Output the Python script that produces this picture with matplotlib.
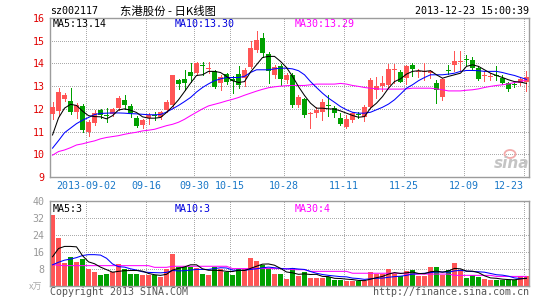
import numpy as np
import matplotlib
matplotlib.use("Agg")
import matplotlib.pyplot as plt
from matplotlib.patches import Ellipse

# ---- values (daily K line, 80 trading days) ----
date_labels = ["2013-09-02", "09-16", "09-30", "10-15", "10-28", "11-11", "11-25", "12-09", "12-23"]
date_idx = [6, 16, 24, 30, 39, 49, 59, 69, 79]

opens = [11.76, 11.90, 12.45, 12.36, 11.88, 12.12, 11.00, 11.36, 11.95, 11.75,
         11.78, 12.02, 12.39, 12.12, 11.60, 11.28, 11.58, 11.75, 11.65, 11.95,
         12.15, 13.27, 13.31, 13.64, 13.56, 13.90, 13.76, 13.67, 13.15, 13.52,
         13.30, 13.53, 13.38, 13.85, 14.60, 15.13, 14.40, 13.50, 13.90, 13.27,
         13.50, 12.15, 12.43, 11.76, 11.80, 11.88, 12.16, 12.03, 11.59, 11.22,
         11.51, 11.76, 11.66, 12.06, 12.84, 12.99, 13.06, 13.70, 13.62, 13.35,
         13.93, 13.62, 13.64, 13.60, 13.16, 12.51, 13.72, 13.94, 14.07, 14.20,
         14.15, 13.80, 13.45, 13.42, 13.47, 13.38, 13.12, 13.07, 13.16, 13.20]
highs = [12.31, 12.93, 12.72, 12.93, 12.25, 12.20, 11.52, 11.95, 12.00, 12.02,
         12.05, 12.55, 12.60, 12.20, 11.70, 11.55, 11.80, 11.85, 11.90, 12.40,
         13.50, 13.32, 13.70, 14.00, 14.08, 14.08, 14.07, 13.70, 13.50, 13.60,
         13.45, 13.90, 13.80, 14.98, 15.43, 15.35, 14.50, 13.93, 13.97, 13.60,
         13.60, 12.60, 12.47, 11.85, 12.06, 12.44, 12.59, 12.13, 11.80, 11.74,
         11.88, 11.88, 12.15, 13.35, 13.40, 13.43, 13.99, 13.99, 13.72, 13.94,
         14.00, 13.75, 14.00, 13.72, 13.25, 13.35, 13.95, 14.53, 14.53, 14.35,
         14.30, 13.87, 13.65, 13.57, 13.90, 13.50, 13.20, 13.20, 13.35, 13.68]
lows = [11.55, 11.75, 12.35, 11.78, 11.60, 10.98, 10.80, 11.30, 11.60, 11.43,
        11.70, 11.95, 12.00, 11.62, 11.20, 11.15, 11.35, 11.50, 11.55, 11.87,
        12.05, 12.88, 12.85, 13.20, 13.50, 13.49, 13.60, 12.90, 12.85, 13.10,
        12.72, 12.90, 13.00, 13.80, 14.50, 14.30, 13.13, 13.35, 13.05, 13.13,
        12.10, 12.10, 11.62, 11.15, 11.66, 11.50, 11.70, 11.62, 11.27, 11.15,
        11.44, 11.58, 11.47, 12.03, 12.47, 12.80, 12.96, 13.13, 13.17, 13.09,
        13.45, 13.40, 13.25, 13.35, 12.25, 12.40, 13.55, 13.65, 13.65, 13.94,
        13.72, 13.25, 13.24, 13.25, 13.28, 13.10, 12.80, 12.95, 13.03, 12.80]
closes = [12.06, 12.75, 12.62, 11.88, 12.17, 11.07, 11.43, 11.83, 11.73, 11.70,
          12.00, 12.46, 12.17, 11.80, 11.26, 11.50, 11.73, 11.68, 11.87, 12.31,
          13.50, 13.08, 13.12, 13.45, 14.03, 13.87, 13.80, 12.95, 13.39, 13.20,
          13.22, 13.03, 13.72, 14.68, 15.03, 14.44, 13.65, 13.86, 13.30, 13.49,
          12.18, 12.54, 11.74, 11.80, 11.93, 12.32, 12.13, 11.80, 11.32, 11.56,
          11.81, 11.72, 12.06, 13.28, 12.99, 13.16, 13.75, 13.74, 13.20, 13.87,
          13.75, 13.66, 13.68, 13.64, 12.84, 13.31, 13.68, 14.12, 14.10, 14.17,
          13.80, 13.31, 13.48, 13.45, 13.44, 13.13, 12.87, 13.05, 13.31, 13.40]

ma5 = [10.85, 11.60, 12.03, 12.20, 12.15, 11.90, 11.70, 11.66, 11.65, 11.56,
       11.70, 11.95, 12.00, 11.94, 11.84, 11.65, 11.59, 11.59, 11.62, 11.84,
       12.10, 12.40, 12.76, 13.13, 13.47, 13.50, 13.65, 13.65, 13.60, 13.43,
       13.24, 13.16, 13.20, 13.62, 13.94, 14.26, 14.31, 14.31, 14.09, 13.82,
       13.43, 12.98, 12.59, 12.25, 12.03, 12.03, 12.00, 11.99, 11.91, 11.81,
       11.71, 11.63, 11.66, 12.03, 12.25, 12.54, 12.91, 13.20, 13.32, 13.53,
       13.65, 13.68, 13.65, 13.68, 13.50, 13.35, 13.43, 13.50, 13.57, 13.87,
       13.94, 13.87, 13.72, 13.57, 13.47, 13.38, 13.28, 13.20, 13.18, 13.12]
ma10 = [10.27, 10.60, 10.95, 11.15, 11.35, 11.50, 11.62, 11.75, 11.80, 11.81,
        11.82, 11.82, 11.81, 11.79, 11.78, 11.76, 11.74, 11.74, 11.75, 11.86,
        12.00, 12.15, 12.32, 12.50, 12.74, 12.94, 13.10, 13.24, 13.32, 13.38,
        13.38, 13.38, 13.43, 13.60, 13.72, 13.72, 13.72, 13.76, 13.79, 13.79,
        13.76, 13.68, 13.50, 13.20, 12.94, 12.69, 12.47, 12.29, 12.10, 11.96,
        11.85, 11.81, 11.81, 11.85, 11.96, 12.07, 12.21, 12.40, 12.65, 12.91,
        13.06, 13.24, 13.38, 13.50, 13.50, 13.50, 13.53, 13.57, 13.65, 13.69,
        13.69, 13.68, 13.65, 13.65, 13.65, 13.60, 13.53, 13.47, 13.38, 13.30]
ma30 = [9.96, 10.12, 10.19, 10.29, 10.41, 10.46, 10.53, 10.59, 10.68, 10.74,
        10.78, 10.82, 10.88, 10.93, 10.97, 11.03, 11.06, 11.10, 11.18, 11.26,
        11.32, 11.41, 11.54, 11.70, 11.85, 12.00, 12.13, 12.20, 12.27, 12.35,
        12.42, 12.50, 12.60, 12.69, 12.78, 12.86, 12.93, 12.97, 13.00, 13.02,
        13.03, 13.03, 13.03, 13.06, 13.09, 13.09, 13.09, 13.09, 13.12, 13.09,
        13.03, 12.99, 12.94, 12.91, 12.88, 12.87, 12.87, 12.87, 12.87, 12.88,
        12.91, 12.91, 12.91, 12.91, 12.88, 12.84, 12.79, 12.79, 12.79, 12.82,
        12.84, 12.88, 12.94, 12.99, 13.03, 13.06, 13.10, 13.16, 13.20, 13.28]

volume = [33.6, 22.7, 10.7, 13.4, 11.2, 12.6, 8.0, 6.4, 5.1, 5.4,
          6.4, 10.2, 8.0, 5.4, 5.4, 5.1, 4.8, 4.8, 4.0, 8.0,
          15.0, 8.6, 8.6, 8.6, 8.3, 5.4, 5.1, 8.6, 8.0, 6.4,
          5.1, 8.0, 8.0, 13.1, 11.5, 9.9, 8.3, 5.4, 5.4, 3.0,
          8.3, 4.6, 6.4, 3.5, 3.5, 3.5, 4.0, 2.7, 2.7, 2.2,
          2.2, 2.2, 2.2, 6.4, 5.4, 5.4, 7.8, 5.4, 4.3, 7.0,
          7.4, 4.6, 4.6, 8.8, 8.8, 4.8, 7.5, 10.7, 7.5, 3.5,
          4.8, 4.0, 3.0, 2.7, 2.7, 2.7, 2.7, 2.7, 4.6, 4.3]
vol_ma5 = [13.6, 17.5, 18.5, 18.5, 18.3, 14.1, 11.2, 10.3, 8.7, 7.5,
           6.3, 6.7, 7.0, 7.1, 7.1, 6.8, 5.7, 5.1, 4.8, 5.3,
           7.3, 8.1, 8.8, 9.8, 9.8, 7.9, 7.2, 7.2, 7.1, 6.7,
           6.6, 7.2, 7.1, 8.1, 9.1, 10.1, 10.2, 9.6, 8.1, 6.4,
           6.0, 5.3, 5.5, 5.2, 5.3, 4.3, 4.2, 3.4, 3.3, 3.0,
           2.8, 2.4, 2.3, 3.0, 3.7, 4.3, 5.4, 6.1, 5.7, 6.0,
           6.4, 5.7, 5.6, 6.5, 6.8, 6.3, 6.9, 8.1, 7.9, 6.8,
           6.8, 6.1, 4.6, 3.6, 3.4, 3.0, 2.8, 2.7, 3.1, 3.4]
vol_ma10 = [9.8, 11.0, 12.0, 12.5, 13.2, 14.2, 14.6, 14.6, 14.4, 12.9,
            10.2, 8.9, 8.7, 7.9, 7.3, 6.5, 6.2, 6.1, 6.0, 6.2,
            7.1, 6.9, 7.0, 7.3, 7.6, 7.6, 7.6, 8.0, 8.4, 8.3,
            7.3, 7.2, 7.2, 7.6, 7.9, 8.4, 8.7, 8.4, 8.1, 7.8,
            8.1, 7.8, 7.6, 6.6, 5.8, 5.2, 4.8, 4.5, 4.2, 4.1,
            3.5, 3.3, 2.9, 3.2, 3.4, 3.5, 3.9, 4.2, 4.4, 4.8,
            5.4, 5.6, 5.8, 6.1, 6.4, 6.4, 6.3, 6.9, 7.2, 6.8,
            6.6, 6.5, 6.3, 5.7, 5.1, 4.9, 4.4, 3.6, 3.3, 3.4]
vol_ma30 = [9.9, 9.6, 9.4, 9.4, 9.4, 9.4, 9.4, 9.4, 9.4, 9.4,
            9.4, 9.4, 9.4, 9.4, 9.4, 9.4, 9.4, 8.6, 8.6, 8.6,
            9.1, 9.1, 9.1, 9.1, 9.1, 9.1, 9.1, 9.1, 9.1, 9.1,
            8.0, 8.0, 8.0, 8.0, 8.0, 8.0, 8.0, 8.0, 8.0, 8.0,
            7.5, 7.5, 7.5, 6.7, 6.7, 6.7, 6.7, 6.7, 6.7, 6.7,
            5.8, 5.8, 5.8, 5.8, 5.8, 5.8, 5.8, 5.8, 5.8, 5.4,
            5.4, 5.4, 5.4, 5.4, 5.4, 5.4, 5.4, 4.8, 4.8, 4.8,
            4.8, 4.8, 4.8, 4.8, 4.3, 4.3, 4.3, 4.3, 4.3, 4.3]

price_ticks = [9, 10, 11, 12, 13, 14, 15, 16]
vol_ticks = [8, 16, 24, 32, 40]

# ---- styling ----
W, H = 545, 300
RED = "#ff5555"
GREEN = "#00a000"
GRID = "#aaaaaa"
FRAME = "#9c9c9c"
MONO = "DejaVu Sans Mono"
CJK = ["Noto Sans CJK SC", "DejaVu Sans"]
FS = 7.2
LW = 0.72   # one pixel at 100 dpi
MALW = 0.75


def box(l, t, r, b):
    return [l / W, 1 - b / H, (r - l) / W, (b - t) / H]


def px(x, y):
    return x / W, 1 - y / H


fig = plt.figure(figsize=(W / 100, H / 100), dpi=100)
fig.patch.set_facecolor("white")

x = np.arange(len(closes))
o = np.array(opens)
c = np.array(closes)
colors = np.where(c >= o, RED, GREEN)
grid_x = [d - 0.42 for d in date_idx]

# ---- price panel ----
ax = fig.add_axes(box(50, 18, 529, 177))
ax.set_xlim(-0.42, len(closes) - 0.58)
ax.set_ylim(9, 16)
for gx in grid_x:
    ax.axvline(gx, color=GRID, lw=LW, ls=(0, (1, 2)), zorder=0, antialiased=False)
for py in price_ticks[1:-1]:
    ax.axhline(py, color=GRID, lw=LW, ls=(0, (1, 2)), zorder=0, antialiased=False)

ax.vlines(x, lows, highs, colors=colors, lw=LW, zorder=2, antialiased=False)
body = np.maximum(np.abs(c - o), 0.045)
ax.bar(x, body, bottom=np.minimum(o, c), width=0.8, color=colors, lw=0,
       zorder=3, antialiased=False)

ax.plot(x, ma30, color="#ff00ff", lw=MALW, zorder=4)
ax.plot(x, ma10, color="#0000ff", lw=MALW, zorder=4)
ax.plot(x, ma5, color="black", lw=MALW, zorder=4)

ax.set_yticks(price_ticks)
ax.set_yticklabels([str(t) for t in price_ticks], color="#e00000", fontsize=FS, family=MONO)
ax.set_xticks(grid_x)
ax.set_xticklabels(date_labels, color="#1a78c8", fontsize=FS, family=MONO)
ax.get_xticklabels()[-1].set_ha("right")
ax.tick_params(axis="y", length=0, pad=4)
ax.tick_params(axis="x", length=0, pad=3)
for s in ax.spines.values():
    s.set_color(FRAME)
    s.set_linewidth(1.0)

ax.text(0.006, 0.965, "MA5:13.14", transform=ax.transAxes, color="black",
        fontsize=FS, family=MONO, va="center")
ax.text(0.26, 0.965, "MA10:13.30", transform=ax.transAxes, color="#0000dd",
        fontsize=FS, family=MONO, va="center")
ax.text(0.511, 0.965, "MA30:13.29", transform=ax.transAxes, color="#ff00ff",
        fontsize=FS, family=MONO, va="center")

# ---- volume panel ----
axv = fig.add_axes(box(50, 201, 529, 285.5))
axv.set_xlim(-0.42, len(closes) - 0.58)
axv.set_ylim(0, 40)
for gx in grid_x:
    axv.axvline(gx, color=GRID, lw=LW, ls=(0, (1, 2)), zorder=0, antialiased=False)
for vy in vol_ticks[:-1]:
    axv.axhline(vy, color=GRID, lw=LW, ls=(0, (1, 2)), zorder=0, antialiased=False)
axv.bar(x, volume, width=0.8, color=colors, lw=0, zorder=2, antialiased=False)
axv.plot(x, vol_ma30, color="#ff00ff", lw=MALW, zorder=3)
axv.plot(x, vol_ma10, color="#0000ff", lw=MALW, zorder=3)
axv.plot(x, vol_ma5, color="black", lw=MALW, zorder=3)
axv.set_yticks(vol_ticks)
axv.set_yticklabels([str(t) for t in vol_ticks], color="#999999", fontsize=FS, family=MONO)
axv.set_xticks([])
axv.tick_params(axis="y", length=0, pad=4)
for s in axv.spines.values():
    s.set_color(FRAME)
    s.set_linewidth(1.0)

axv.text(0.006, 0.9, "MA5:3", transform=axv.transAxes, color="black",
         fontsize=FS, family=MONO, va="center")
axv.text(0.26, 0.9, "MA10:3", transform=axv.transAxes, color="#0000dd",
         fontsize=FS, family=MONO, va="center")
axv.text(0.511, 0.9, "MA30:4", transform=axv.transAxes, color="#ff00ff",
         fontsize=FS, family=MONO, va="center")

# ---- header / footer text ----
fig.text(*px(50, 11), "sz002117", fontsize=FS, family=MONO, va="center")
fig.text(*px(120, 11), "东港股份 - 日K线图", fontsize=8.2, family=CJK, va="center")
fig.text(*px(529, 11), "2013-12-23 15:00:39", fontsize=FS, family=MONO, va="center", ha="right")
fig.text(*px(29, 287), "x万", fontsize=6.5, family=CJK, va="center", color="#aaaaaa")
fig.text(*px(50, 292), "Copyright 2013 SINA.COM", fontsize=FS, family=MONO,
         va="center", color="#555555")
fig.text(*px(529, 292), "http://finance.sina.com.cn", fontsize=FS, family=MONO,
         va="center", ha="right", color="#555555")

# sina watermark
fig.text(*px(512, 164), "sina", fontsize=11, style="italic", weight="bold",
         color="#c4c4c4", ha="center", va="center")
fig.add_artist(Ellipse(px(510, 154), 11 / W, 8 / H, transform=fig.transFigure,
                       fill=False, edgecolor="#f2aaaa", lw=1.3))

fig.savefig("out.png", dpi=100)
